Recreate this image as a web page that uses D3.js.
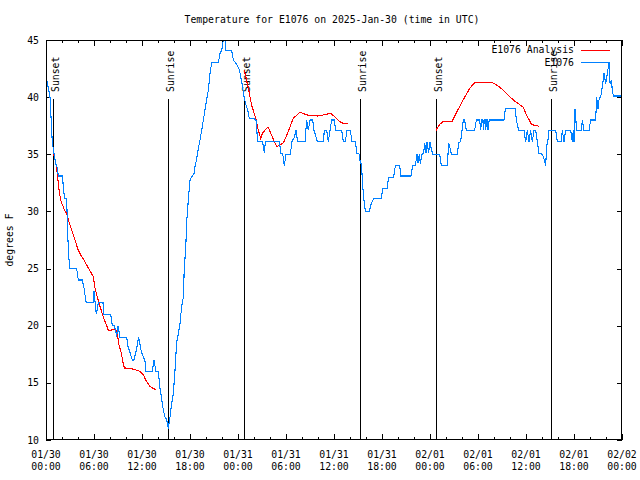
<!DOCTYPE html>
<html><head><meta charset="utf-8">
<script src="https://cdn.jsdelivr.net/npm/d3@7"></script>
<style>
body{margin:0;background:#fff}
svg text{font-family:"DejaVu Sans Mono",monospace;font-size:9.8px;fill:#000}
</style>
</head><body><svg id="c" width="640" height="480"></svg>
<script>
const titleText = "Temperature for E1076 on 2025-Jan-30 (time in UTC)";
const yLabel = "degrees F";
const seriesNames = ["E1076 Analysis", "E1076"];
const seriesColors = ["#ff0000", "#0080ff"];
const yTicks = [10, 15, 20, 25, 30, 35, 40, 45];
const xTickHours = [0, 6, 12, 18, 24, 30, 36, 42, 48, 54, 60, 66, 72];
const xTickDates = ["01/30","01/30","01/30","01/30","01/31","01/31","01/31","01/31","02/01","02/01","02/01","02/01","02/02"];
const xTickTimes = ["00:00","06:00","12:00","18:00","00:00","06:00","12:00","18:00","00:00","06:00","12:00","18:00","00:00"];
const sunNames = ["Sunset","Sunrise","Sunset","Sunrise","Sunset","Sunrise"];
const sunHours = [0.92, 15.29, 24.79, 39.29, 48.79, 63.17];

// observations: [hours since 01/30 00:00 UTC, degF]
const obs = [
[0.08,41.6],[0.5,40.0],[0.79,36.0],[1.0,35.1],[1.21,34.2],[1.42,33.8],[1.54,33.1],[2.04,33.1],
[2.25,31.6],[2.33,31.1],[2.58,31.1],[2.75,27.4],[2.875,25.8],[3.0,25.0],[3.83,25.0],[4.04,24.0],
[4.54,24.0],[4.75,23.3],[4.96,22.3],[5.04,22.0],[5.875,22.0],[6.0,23.0],[6.29,21.0],[6.54,22.0],
[7.125,22.0],[7.25,21.0],[8.08,21.0],[8.29,20.0],[8.5,20.0],[8.71,19.6],[8.83,19.0],[9.0,20.0],
[9.25,19.0],[10.08,19.0],[10.25,18.2],[10.79,17.0],[11.0,17.0],[11.33,18.0],[11.58,19.0],[11.92,17.7],
[12.17,17.3],[12.375,16.9],[12.5,16.0],[13.29,16.0],[13.5,17.0],[13.75,16.0],[14.04,16.0],[14.25,14.5],
[14.46,13.6],[14.67,12.6],[14.875,12.0],[15.08,11.8],[15.29,11.0],[15.5,12.0],[15.71,13.2],[15.92,14.1],
[16.125,16.1],[16.33,18.5],[16.54,19.3],[16.75,20.2],[16.96,21.7],[17.17,22.5],[17.29,25.2],[17.46,26.6],
[17.58,29.0],[17.79,31.0],[18.0,32.75],[18.21,33.0],[18.5,33.3],[18.625,33.9],[18.83,34.6],[19.04,35.5],
[19.25,36.25],[19.46,37.1],[19.67,38.0],[19.875,38.9],[20.08,39.75],[20.29,40.6],[20.5,42.1],[20.71,43.0],
[21.54,43.0],[21.75,43.8],[21.96,44.1],[22.17,45.0],[22.375,45.0],[22.5,44.1],[23.21,44.1],[23.42,43.25],
[23.83,42.9],[24.17,42.4],[24.5,41.2],[24.79,39.9],[25.0,39.3],[25.21,38.9],[25.42,38.1],[26.04,38.1],
[26.25,38.0],[26.46,36.1],[27.08,36.1],[27.29,35.1],[27.42,36.1],[29.17,36.1],[29.375,35.1],[29.58,35.1],
[29.79,34.0],[30.0,35.0],[30.54,35.0],[30.75,36.1],[31.04,36.5],[31.25,37.1],[31.46,36.1],[32.375,36.1],
[32.58,38.0],[32.79,37.1],[33.0,38.0],[33.33,38.0],[33.5,37.1],[33.92,36.1],[34.67,36.1],[34.79,37.1],
[35.08,37.1],[35.29,36.1],[35.5,37.1],[35.71,38.0],[36.08,38.0],[36.17,37.1],[36.96,37.1],[37.17,36.1],
[37.42,36.1],[37.625,37.1],[38.04,37.1],[38.25,36.1],[38.67,36.1],[38.875,35.1],[39.17,35.0],[39.29,34.2],
[39.42,34.2],[39.5,33.3],[39.625,31.9],[39.79,30.7],[39.92,30.0],[40.42,30.0],[40.67,30.7],[40.96,31.1],
[41.92,31.1],[42.08,32.0],[42.625,32.0],[42.83,33.0],[43.46,33.0],[43.67,34.0],[44.21,34.0],[44.375,33.1],
[45.625,33.1],[45.83,34.0],[46.17,34.0],[46.375,35.0],[46.5,34.2],[46.67,35.0],[46.79,34.2],[47.0,35.0],
[47.21,35.1],[47.33,36.0],[47.5,35.1],[47.625,36.1],[47.83,35.1],[48.0,36.1],[48.17,35.4],[48.375,35.0],
[49.21,35.0],[49.42,34.0],[50.17,34.0],[50.33,36.0],[50.46,35.7],[50.67,35.0],[51.42,35.0],[51.58,36.0],
[51.83,36.1],[52.0,37.1],[52.17,38.0],[52.33,38.0],[52.54,37.1],[53.58,37.1],[53.79,38.0],[54.21,38.0],
[54.33,37.1],[54.46,38.0],[54.62,38.0],[54.67,37.1],[54.79,38.0],[54.92,38.0],[54.96,37.1],[55.08,38.0],
[55.21,38.0],[55.25,37.1],[55.4,38.0],[57.25,38.0],[57.42,39.0],[58.67,39.0],[58.79,38.0],[59.08,37.1],[59.75,37.1],
[59.96,36.1],[60.17,37.1],[60.375,36.1],[60.58,37.1],[60.79,36.1],[61.0,37.1],[61.21,37.1],[61.42,36.1],
[61.625,35.1],[62.04,35.0],[62.25,34.6],[62.46,34.0],[62.58,35.7],[62.75,36.25],[62.875,37.1],[63.71,37.1],
[63.92,36.1],[64.42,36.1],[64.54,37.1],[64.75,36.1],[64.96,37.1],[65.58,37.1],[65.79,36.1],[65.92,37.1],
[66.0,36.1],[66.125,39.0],[66.33,37.1],[66.92,37.1],[67.04,38.0],[67.25,37.1],[67.875,37.1],[68.08,38.0],
[68.71,38.0],[68.83,40.0],[69.0,39.0],[69.17,40.0],[69.33,40.0],[69.54,40.9],[69.75,42.1],[69.96,41.2],
[70.17,42.1],[70.375,43.0],[70.5,41.2],[70.67,41.5],[70.79,40.6],[70.92,40.1],[72.0,40.1]
];

// analysis: three runs, null marks a gap
const analysis = [
[0.92,35.1],[1.21,34.35],[1.42,33.3],[1.625,31.9],[1.83,31.0],[2.04,30.6],[2.33,30.1],[2.58,29.8],
[2.875,29.1],[3.29,28.2],[3.71,27.35],[3.92,26.8],[4.33,26.2],[4.75,25.75],[5.17,25.2],[5.58,24.7],
[5.92,24.3],[6.125,23.3],[6.42,22.5],[6.83,21.5],[7.25,20.6],[7.54,20.1],[7.79,19.6],[8.29,19.63],
[8.71,19.68],[8.92,19.3],[9.125,18.3],[9.42,17.6],[9.67,16.6],[9.83,16.3],[10.58,16.27],[11.21,16.13],
[11.625,16.04],[12.0,15.83],[12.17,15.7],[12.58,15.1],[13.0,14.7],[13.42,14.5],[13.75,14.4],
null,
[24.75,42.4],[25.0,41.7],[25.29,40.8],[25.7,39.3],[26.25,38.06],[26.54,37.1],[26.83,36.4],[27.1,36.9],
[27.75,37.4],[28.3,36.5],[28.83,35.67],[29.25,35.8],[29.67,36.0],[30.0,36.5],[30.5,37.4],[30.92,38.15],
[31.3,38.4],[31.75,38.67],[32.4,38.5],[33.0,38.38],[34.0,38.35],[34.7,38.45],[35.5,38.58],[35.75,38.5],
[36.2,38.2],[36.75,37.85],[37.2,37.7],[37.8,37.7],
null,
[48.75,37.1],[49.2,37.6],[49.67,37.9],[50.79,37.9],[51.5,38.9],[52.33,40.0],[53.0,40.8],[53.625,41.3],
[55.7,41.3],[56.25,41.1],[56.7,40.9],[57.58,40.3],[58.42,39.75],[59.1,39.4],[59.67,39.1],[60.08,38.4],
[60.71,37.6],[61.67,37.45]
];

const L = 46, R = 622, T = 40, B = 440;
const svg = d3.select("#c");
const x = d3.scaleLinear().domain([0, 72]).range([L, R]);
const y = d3.scaleLinear().domain([10, 45]).range([B, T]);

svg.append("text").attr("x", (L + R) / 2 - 2).attr("y", 23).attr("text-anchor", "middle").text(titleText);

svg.append("text").attr("transform", `translate(13,${(T + B) / 2}) rotate(-90)`)
  .attr("text-anchor", "middle").text(yLabel);

const minorHours = d3.range(0, 73, 2).filter(h => h % 6 !== 0);
const tickG = svg.append("g").attr("shape-rendering", "crispEdges");
function xt(vals, len) {
  tickG.append("g").attr("transform", `translate(0,${B})`)
    .call(d3.axisBottom(x).tickValues(vals).tickSize(-len).tickFormat(""))
    .call(g => g.select(".domain").remove());
  tickG.append("g").attr("transform", `translate(0,${T})`)
    .call(d3.axisTop(x).tickValues(vals).tickSize(-len).tickFormat(""))
    .call(g => g.select(".domain").remove());
}
xt(xTickHours, 6);
xt(minorHours, 3);
tickG.append("g").attr("transform", `translate(${L},0)`)
  .call(d3.axisLeft(y).tickValues(yTicks).tickSize(-5).tickFormat(""))
  .call(g => g.select(".domain").remove());
tickG.append("g").attr("transform", `translate(${R},0)`)
  .call(d3.axisRight(y).tickValues(yTicks).tickSize(-5).tickFormat(""))
  .call(g => g.select(".domain").remove());
svg.selectAll(".tick line").attr("stroke", "#000");

svg.append("g").selectAll("text").data(yTicks).join("text")
  .attr("x", L - 7).attr("y", d => y(d) + 3.5).attr("text-anchor", "end").text(d => d);
const xl = svg.append("g").selectAll("g").data(xTickHours).join("g");
xl.append("text").attr("x", d => x(d)).attr("y", 458).attr("text-anchor", "middle").text((d, i) => xTickDates[i]);
xl.append("text").attr("x", d => x(d)).attr("y", 470).attr("text-anchor", "middle").text((d, i) => xTickTimes[i]);

svg.append("clipPath").attr("id", "clip").append("rect")
  .attr("x", L).attr("y", T).attr("width", R - L).attr("height", B - T);

const sg = svg.append("g");
sunHours.forEach((h, i) => {
  const px = Math.round(x(h)) + 0.5;
  sg.append("line").attr("x1", px).attr("x2", px).attr("y1", y(45) + 59).attr("y2", B)
    .attr("stroke", "#000").attr("stroke-width", 1).attr("shape-rendering", "crispEdges");
  sg.append("text").attr("transform", `translate(${px + 5},${y(45) + 52}) rotate(-90)`)
    .attr("text-anchor", "start").text(sunNames[i]);
});

const line = d3.line().defined(d => d).x(d => x(d[0])).y(d => y(d[1]));
const dg = svg.append("g").attr("clip-path", "url(#clip)");
dg.append("path").datum(analysis).attr("d", line).attr("fill", "none")
  .attr("stroke", seriesColors[0]).attr("stroke-width", 1.1).attr("shape-rendering", "crispEdges");
dg.append("path").datum(obs).attr("d", line).attr("fill", "none")
  .attr("stroke", seriesColors[1]).attr("stroke-width", 1.1).attr("shape-rendering", "crispEdges");

const lg = svg.append("g");
[0, 1].forEach(i => {
  const ly = 49.5 + i * 12.5;
  lg.append("text").attr("x", 574).attr("y", ly + 3.5).attr("text-anchor", "end").text(seriesNames[i]);
  lg.append("line").attr("x1", 581).attr("x2", 610).attr("y1", Math.round(ly) + 0.5).attr("y2", Math.round(ly) + 0.5)
    .attr("stroke", seriesColors[i]).attr("stroke-width", 1).attr("shape-rendering", "crispEdges");
});

svg.append("rect").attr("x", L + 0.5).attr("y", T + 0.5).attr("width", R - L - 1).attr("height", B - T - 1)
  .attr("fill", "none").attr("stroke", "#000").attr("shape-rendering", "crispEdges");
</script></body></html>
